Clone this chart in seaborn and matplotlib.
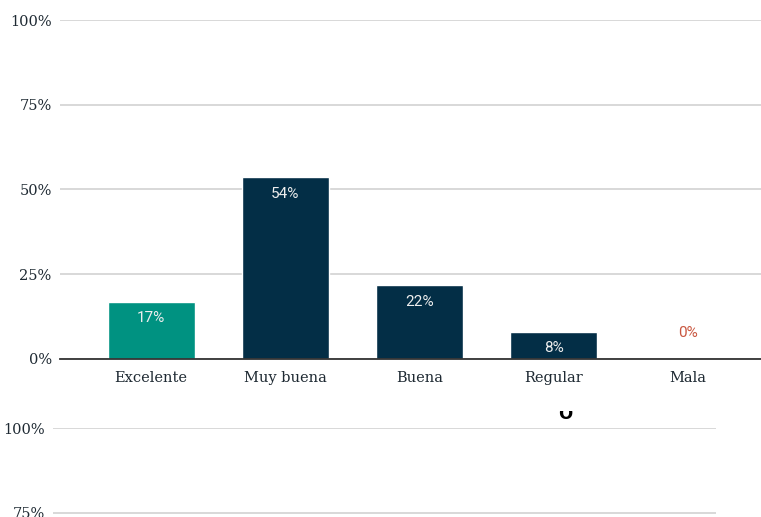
import pandas as pd
import seaborn as sns
import matplotlib.pyplot as plt
from matplotlib.patches import Rectangle
import numpy as np


# Data
categories = ['Excelente', 'Muy buena', 'Buena', 'Regular', 'Mala']
values = [16.7, 53.6, 21.6, 7.8, 0.0]
bar_colors = ['#009281', '#032E46', '#032E46', '#032E46', '#032E46']
yticks = [0, 25, 50, 75, 100]
ytick_labels = ['0%', '25%', '50%', '75%', '100%']

df = pd.DataFrame({'categoria': categories, 'valor': values})

sns.set_theme(style='white')
plt.rcParams['font.family'] = ['DejaVu Serif']

fig = plt.figure(figsize=(7.61, 5.17), dpi=100)
W, H = 761, 517

# Main chart
ax = fig.add_axes([60 / W, 1 - 358.5 / H, (761 - 60) / W, 338 / H])
sns.barplot(data=df, x='categoria', y='valor', hue='categoria',
            palette=bar_colors, legend=False, width=0.65, ax=ax,
            saturation=1)
ax.set_ylim(0, 100)
ax.set_xlim(-0.68, 4.545)
ax.set_yticks(yticks)
ax.set_yticklabels(ytick_labels)
ax.set_xlabel('')
ax.set_ylabel('')
ax.yaxis.grid(True, color='#d2d2d2', linewidth=1.2)
ax.set_axisbelow(True)
for s in ['top', 'right', 'left']:
    ax.spines[s].set_visible(False)
ax.spines['bottom'].set_color('#333333')
ax.spines['bottom'].set_linewidth(1.3)
ax.tick_params(axis='both', length=0, labelsize=10.5, colors='#1f2a33')
ax.tick_params(axis='x', pad=9)
ax.tick_params(axis='y', pad=6)

# Bar labels
for i, v in enumerate(values):
    txt = f'{round(v)}%'
    if v > 3:
        ax.text(i, v - 4.8, txt, ha='center', va='center', color='#eeeeee',
                fontsize=11, family=['Roboto', 'DejaVu Sans'])
    else:
        ax.text(i, v + 7.5, txt, ha='center', va='center', color='#c9563f',
                fontsize=11, family=['Roboto', 'DejaVu Sans'])

# Second chart, cut off at the bottom of the image
ax2 = fig.add_axes([53 / W, 1 - (428 + 338) / H, (716 - 53) / W, 338 / H])
ax2.set_ylim(0, 100)
ax2.set_yticks(yticks)
ax2.set_yticklabels(ytick_labels)
ax2.set_xticks([])
ax2.yaxis.grid(True, color='#d2d2d2', linewidth=1.2)
for s in ['top', 'right', 'left', 'bottom']:
    ax2.spines[s].set_visible(False)
ax2.tick_params(axis='y', length=0, labelsize=10.5, colors='#1f2a33', pad=6)

# partly hidden title glyph of the second chart
t = fig.text(565 / W, 1 - 419 / H, 'O', ha='center', va='baseline',
             fontsize=12, fontweight='bold', color='black',
             family=['DejaVu Sans'])
clip = Rectangle((540 / W, 1 - 421 / H), 50 / W, 10 / H,
                 transform=fig.transFigure)
t.set_clip_path(clip)

fig.savefig('out.png', dpi=100)
